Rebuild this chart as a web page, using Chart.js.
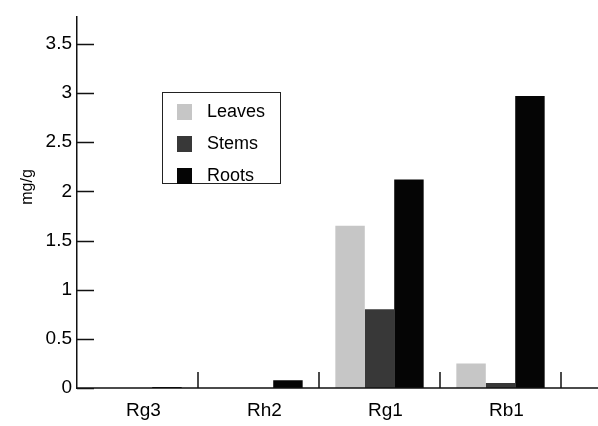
<!DOCTYPE html>
<html>
<head>
<meta charset="utf-8">
<script src="https://cdn.jsdelivr.net/npm/chart.js@4.4.1/dist/chart.umd.min.js"></script>
<style>
  html, body { margin: 0; padding: 0; background: #fff; }
  #wrap { width: 598px; height: 426px; }
</style>
</head>
<body>
<div id="wrap"><canvas id="chart" width="598" height="426"></canvas></div>
<script>
// datos (mg/g)
const categories = ['Rg3', 'Rh2', 'Rg1', 'Rb1'];
const leaves = [0, 0, 1.65, 0.25];
const stems = [0, 0, 0.8, 0.05];
const roots = [0.01, 0.08, 2.12, 2.97];
const yTicks = [0, 0.5, 1, 1.5, 2, 2.5, 3, 3.5];
const yTitle = 'mg/g';

const FONT = "'Liberation Sans', Arial, Helvetica, sans-serif";

// ejes dibujados a mano: ticks hacia dentro, linea x hasta el borde y leyenda en caja
const refinements = {
    id: 'refinements',
    afterDraw(chart) {
        const { ctx, chartArea, scales } = chart;
        const x = scales.x;
        const y = scales.y;
        ctx.save();
        ctx.strokeStyle = '#111';
        ctx.lineWidth = 1.5;
        ctx.beginPath();
        ctx.moveTo(chartArea.left, chartArea.bottom);
        ctx.lineTo(chart.width, chartArea.bottom);
        y.ticks.forEach(t => {
            const py = Math.round(y.getPixelForValue(t.value)) + 0.5;
            ctx.moveTo(chartArea.left, py);
            ctx.lineTo(chartArea.left + 17, py);
        });
        const half = (x.getPixelForValue(1) - x.getPixelForValue(0)) / 2;
        categories.forEach((c, i) => {
            const px = Math.round(x.getPixelForValue(i) + half);
            ctx.moveTo(px, chartArea.bottom);
            ctx.lineTo(px, chartArea.bottom - 16);
        });
        ctx.stroke();

        // titulo del eje y
        ctx.save();
        ctx.translate(28, 187);
        ctx.rotate(-Math.PI / 2);
        ctx.font = '16px ' + FONT;
        ctx.textAlign = 'center';
        ctx.textBaseline = 'middle';
        ctx.fillStyle = '#000';
        ctx.fillText(yTitle, 0, 0);
        ctx.restore();

        // leyenda
        ctx.lineWidth = 1;
        ctx.strokeStyle = '#222';
        ctx.strokeRect(162.5, 92.5, 118, 91);
        ctx.font = '18px ' + FONT;
        ctx.textBaseline = 'middle';
        chart.data.datasets.forEach((ds, i) => {
            const cy = 112 + i * 32;
            ctx.fillStyle = ds.backgroundColor;
            ctx.fillRect(177, cy - 8, 15, 16);
            ctx.fillStyle = '#000';
            ctx.fillText(ds.label, 207, cy);
        });
        ctx.restore();
    }
};

const ctx = document.querySelector('#chart');
new Chart(ctx, {
    type: 'bar',
    data: {
        labels: categories,
        datasets: [
            { label: 'Leaves', data: leaves, backgroundColor: '#c6c6c6' },
            { label: 'Stems', data: stems, backgroundColor: '#383838' },
            { label: 'Roots', data: roots, backgroundColor: '#050505' }
        ]
    },
    options: {
        responsive: false,
        animation: false,
        devicePixelRatio: 1,
        layout: { padding: { top: 5, right: 37, left: 0, bottom: 0 } },
        datasets: {
            bar: { categoryPercentage: 0.73, barPercentage: 1, borderWidth: 0 }
        },
        plugins: {
            legend: { display: false },
            tooltip: { enabled: false }
        },
        scales: {
            x: {
                grid: { display: false, drawTicks: false },
                border: { display: false },
                ticks: {
                    color: '#000',
                    padding: 11,
                    labelOffset: 6,
                    font: { family: FONT, size: 19 }
                },
                afterFit: scale => { scale.height = 38; }
            },
            y: {
                min: 0,
                max: 3.78,
                grid: { display: false, drawTicks: false },
                border: { display: true, color: '#111', width: 1.5 },
                afterBuildTicks: scale => {
                    scale.ticks = yTicks.map(v => ({ value: v }));
                },
                ticks: {
                    color: '#000',
                    padding: 5,
                    font: { family: FONT, size: 19 },
                    callback: v => String(v)
                },
                afterFit: scale => { scale.width = 77; }
            }
        }
    },
    plugins: [refinements]
});
</script>
</body>
</html>
